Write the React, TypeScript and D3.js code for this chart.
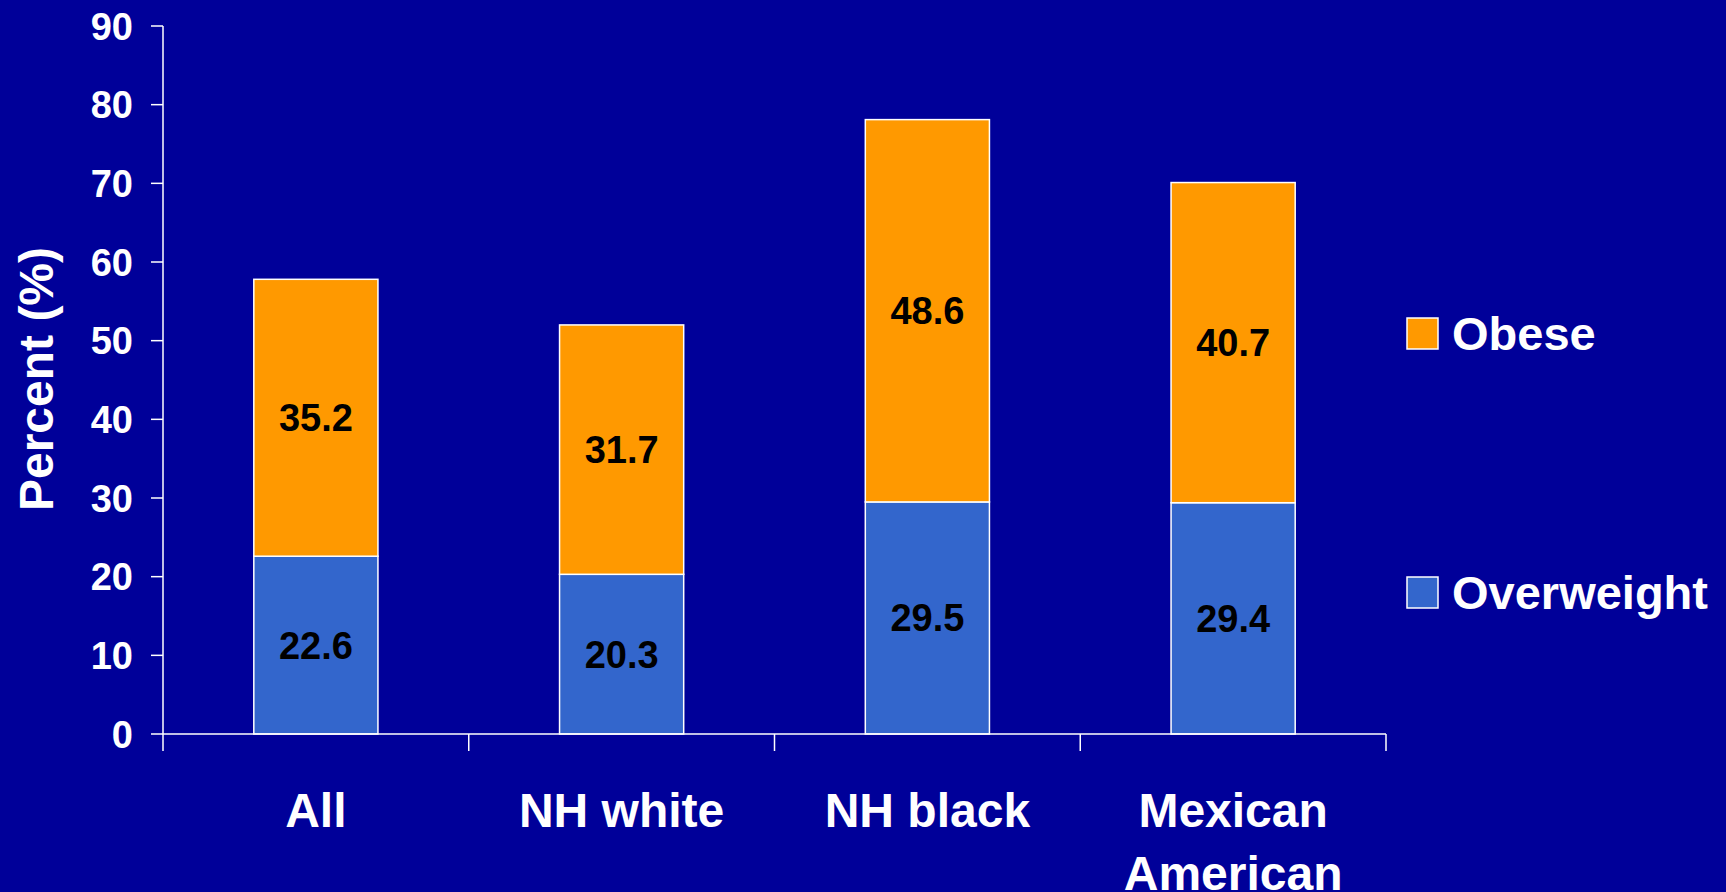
import React from "react";
import * as d3 from "d3";

const categories = ["All", "NH white", "NH black", "Mexican American"];
const categoryLines = [["All"], ["NH white"], ["NH black"], ["Mexican", "American"]];
const overweight = [22.6, 20.3, 29.5, 29.4];
const obese = [35.2, 31.7, 48.6, 40.7];
const seriesNames = ["Overweight", "Obese"];
const legendOrder = ["Obese", "Overweight"];
const yTicks = [0, 10, 20, 30, 40, 50, 60, 70, 80, 90];

const W = 1726;
const H = 892;
const BG = "#000099";
const COLORS: Record<string, string> = { Overweight: "#3366CC", Obese: "#FF9900" };
const FONT = "'Liberation Sans', Arial, Helvetica, sans-serif";

export default function App() {
  const x = d3.scaleBand<string>().domain(categories).range([163, 1386]).padding(0);
  const y = d3.scaleLinear().domain([0, 90]).range([734, 26]);
  const rows = categories.map((c, i) => ({ cat: c, Overweight: overweight[i], Obese: obese[i] }));
  const stacked = d3.stack<any>().keys(seriesNames)(rows);
  const barW = x.bandwidth() * 0.406;
  const bandEdges = [...categories.map((c) => x(c)!), x.range()[1]];

  return (
    <svg width={W} height={H} style={{ position: "absolute", left: 0, top: 0, background: BG }} fontFamily={FONT}>
      <rect x={0} y={0} width={W} height={H} fill={BG} />
      {stacked.map((s) => (
        <g key={s.key}>
          {s.map((d, i) => {
            const cx = x(categories[i])! + x.bandwidth() / 2;
            const y0 = y(d[0]);
            const y1 = y(d[1]);
            return (
              <g key={i}>
                <rect x={cx - barW / 2} y={y1} width={barW} height={y0 - y1} fill={COLORS[s.key]} stroke="#ffffff" strokeWidth={1.5} />
                <text x={cx} y={(y0 + y1) / 2 + 13.5} textAnchor="middle" fontSize={38} fontWeight="bold" fill="#000000">
                  {(d[1] - d[0]).toFixed(1)}
                </text>
              </g>
            );
          })}
        </g>
      ))}
      {/* Y axis */}
      <line x1={163} x2={163} y1={y(90)} y2={y(0)} stroke="#fff" strokeWidth={1.5} />
      {yTicks.map((t) => (
        <g key={t}>
          <line x1={151} x2={163} y1={y(t)} y2={y(t)} stroke="#fff" strokeWidth={1.5} />
          <text x={133} y={y(t) + 13.5} textAnchor="end" fontSize={38} fontWeight="bold" fill="#fff">
            {t}
          </text>
        </g>
      ))}
      {/* X axis */}
      <line x1={163} x2={x.range()[1]} y1={y(0)} y2={y(0)} stroke="#fff" strokeWidth={1.5} />
      {bandEdges.map((e, i) => (
        <line key={i} x1={e} x2={e} y1={y(0)} y2={y(0) + 17} stroke="#fff" strokeWidth={1.5} />
      ))}
      {categories.map((c, i) => (
        <text key={c} x={x(c)! + x.bandwidth() / 2} y={827} textAnchor="middle" fontSize={48} fontWeight="bold" fill="#fff">
          {categoryLines[i].map((l, j) => (
            <tspan key={j} x={x(c)! + x.bandwidth() / 2} dy={j === 0 ? 0 : 63}>
              {l}
            </tspan>
          ))}
        </text>
      ))}
      {/* Y title */}
      <text transform={`translate(53, 379) rotate(-90)`} textAnchor="middle" fontSize={48} fontWeight="bold" fill="#fff">
        Percent (%)
      </text>
      {/* Legend */}
      {legendOrder.map((name, i) => {
        const top = i === 0 ? 318 : 577;
        return (
          <g key={name}>
            <rect x={1407} y={top} width={31} height={31} fill={COLORS[name]} stroke="#fff" strokeWidth={1.5} />
            <text x={1452} y={top + 32} fontSize={47} fontWeight="bold" fill="#fff">
              {name}
            </text>
          </g>
        );
      })}
    </svg>
  );
}
